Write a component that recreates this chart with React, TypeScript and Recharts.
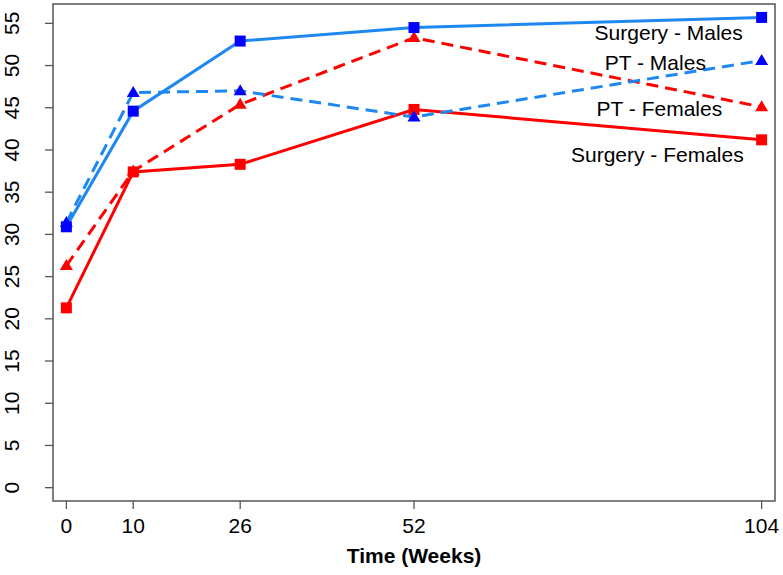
import React from 'react';
import { LineChart, Line, XAxis, YAxis, ReferenceArea, ReferenceDot } from 'recharts';

const weeks = [0, 10, 26, 52, 104];
const surgeryMales = [30.9, 44.6, 52.9, 54.5, 55.7];
const ptMales = [31.4, 46.8, 47.0, 43.9, 50.6];
const ptFemales = [26.3, 37.5, 45.4, 53.3, 45.1];
const surgeryFemales = [21.3, 37.4, 38.3, 44.8, 41.2];
const xTicks = [0, 10, 26, 52, 104];
const yTicks = [0, 5, 10, 15, 20, 25, 30, 35, 40, 45, 50, 55];

const seriesLabels = [
  { text: 'Surgery - Males', x: 90.1, y: 53.8 },
  { text: 'PT - Males', x: 88.1, y: 50.3 },
  { text: 'PT - Females', x: 88.7, y: 44.8 },
  { text: 'Surgery - Females', x: 88.4, y: 39.4 },
];

const data = weeks.map((w, i) => ({
  week: w,
  sm: surgeryMales[i],
  pm: ptMales[i],
  pf: ptFemales[i],
  sf: surgeryFemales[i],
}));

const FONT = '"Liberation Sans", Arial, sans-serif';
const FS = 21;
const X_DOMAIN: [number, number] = [-2, 106];
const Y_DOMAIN: [number, number] = [-1.58, 57.29];

const Square = (color: string) => (props: any) => {
  const { cx, cy, index } = props;
  if (cx == null || cy == null) return <g key={index} />;
  return <rect key={index} x={cx - 5.5} y={cy - 5.5} width={11} height={11} fill={color} />;
};

const Triangle = (color: string) => (props: any) => {
  const { cx, cy, index } = props;
  if (cx == null || cy == null) return <g key={index} />;
  const h = 11;
  const w = 13;
  return (
    <polygon
      key={index}
      points={`${cx},${cy - h * 0.6} ${cx - w / 2},${cy + h * 0.4} ${cx + w / 2},${cy + h * 0.4}`}
      fill={color}
    />
  );
};

const XTick = (props: any) => {
  const { x, y, payload } = props;
  return (
    <text x={x} y={y + 22} textAnchor="middle" fontFamily={FONT} fontSize={FS} fill="#000">
      {payload.value}
    </text>
  );
};

const YTick = (props: any) => {
  const { x, y, payload } = props;
  const bx = x - 24;
  return (
    <text
      x={bx}
      y={y}
      transform={`rotate(-90, ${bx}, ${y})`}
      textAnchor="middle"
      fontFamily={FONT}
      fontSize={FS}
      fill="#000"
    >
      {payload.value}
    </text>
  );
};

export default function App() {
  return (
    <div style={{ position: 'absolute', left: 0, top: 0, width: 783, height: 575, background: '#fff' }}>
      <LineChart width={783} height={575} data={data} margin={{ top: 4, right: 8, bottom: 0, left: 0 }}>
        <XAxis
          dataKey="week"
          type="number"
          domain={X_DOMAIN}
          ticks={xTicks}
          allowDataOverflow
          height={74}
          axisLine={false}
          tickSize={8}
          tickLine={{ stroke: '#555', strokeWidth: 1.3 }}
          tick={<XTick />}
          interval={0}
          label={{
            value: 'Time (Weeks)',
            content: (p: any) => {
              const vb = p.viewBox || { x: 53, y: 501, width: 722 };
              return (
                <text
                  x={vb.x + vb.width / 2}
                  y={vb.y + 62}
                  textAnchor="middle"
                  fontFamily={FONT}
                  fontSize={FS}
                  fontWeight="bold"
                  fill="#000"
                >
                  Time (Weeks)
                </text>
              );
            },
          }}
        />
        <YAxis
          type="number"
          domain={Y_DOMAIN}
          ticks={yTicks}
          allowDataOverflow
          width={53}
          axisLine={false}
          tickSize={8}
          tickLine={{ stroke: '#555', strokeWidth: 1.3 }}
          tick={<YTick />}
          interval={0}
        />
        <ReferenceArea
          x1={X_DOMAIN[0]}
          x2={X_DOMAIN[1]}
          y1={Y_DOMAIN[0]}
          y2={Y_DOMAIN[1]}
          fill="none"
          fillOpacity={0}
          stroke="#555"
          strokeWidth={1.5}
          ifOverflow="visible"
        />
        <Line
          dataKey="sf"
          stroke="#FF0000"
          strokeWidth={3}
          dot={Square('#FF0000')}
          activeDot={false}
          isAnimationActive={false}
        />
        <Line
          dataKey="pf"
          stroke="#FF0000"
          strokeWidth={3}
          strokeDasharray="12 7"
          dot={Triangle('#FF0000')}
          activeDot={false}
          isAnimationActive={false}
        />
        <Line
          dataKey="sm"
          stroke="#1E88F0"
          strokeWidth={3}
          dot={Square('#0000FF')}
          activeDot={false}
          isAnimationActive={false}
        />
        <Line
          dataKey="pm"
          stroke="#1E88F0"
          strokeWidth={3}
          strokeDasharray="12 7"
          dot={Triangle('#0000FF')}
          activeDot={false}
          isAnimationActive={false}
        />
        {seriesLabels.map((l) => (
          <ReferenceDot
            key={l.text}
            x={l.x}
            y={l.y}
            r={0}
            ifOverflow="visible"
            shape={(p: any) => (
              <text
                x={p.cx}
                y={p.cy + 7}
                textAnchor="middle"
                fontFamily={FONT}
                fontSize={FS}
                fill="#000"
              >
                {l.text}
              </text>
            )}
          />
        ))}
      </LineChart>
    </div>
  );
}
